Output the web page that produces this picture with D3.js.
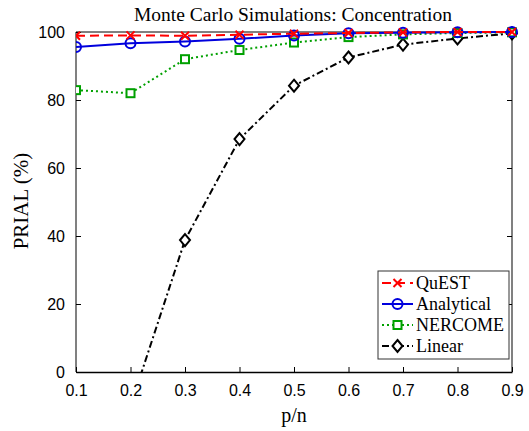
<!DOCTYPE html>
<html><head><meta charset="utf-8">
<script src="https://cdn.jsdelivr.net/npm/d3@7"></script>
<style>body{margin:0;background:#fff}svg{display:block}</style>
</head><body>
<svg id="c" width="529" height="431"></svg>
<script>
const pn = [0.1,0.2,0.3,0.4,0.5,0.6,0.7,0.8,0.9];
const quest = [98.9,99.0,98.9,99.2,99.5,99.7,99.9,100,100];
const analytical = [95.6,96.7,97.2,98.0,99.0,99.6,99.8,99.9,100];
const nercome = [82.9,82.0,92.0,94.7,96.9,98.5,99.3,99.7,99.9];
const linear = [-60,-10,38.8,68.5,84.2,92.5,96.3,98.1,99.6];
const xTicks = [0.1,0.2,0.3,0.4,0.5,0.6,0.7,0.8,0.9];
const yTicks = [0,20,40,60,80,100];
const names = ["QuEST","Analytical","NERCOME","Linear"];

const svg = d3.select("#c");
const L=76,R=512,T=32,B=372;
const x = d3.scaleLinear().domain([0.1,0.9]).range([L,R]);
const y = d3.scaleLinear().domain([0,100]).range([B,T]);
const SERIF = "Liberation Serif, Times New Roman, serif";
const SANS = "Liberation Sans, Arial, sans-serif";

svg.append("defs").append("clipPath").attr("id","clip").append("rect")
  .attr("x",L).attr("y",T-6).attr("width",R-L+6).attr("height",B-T+6);

// frame
svg.append("line").attr("x1",L).attr("x2",R).attr("y1",T).attr("y2",T).attr("stroke","#000").attr("stroke-width",1);
svg.append("line").attr("x1",L).attr("x2",L).attr("y1",T).attr("y2",B).attr("stroke","#808080").attr("stroke-width",2);
svg.append("line").attr("x1",R).attr("x2",R).attr("y1",T).attr("y2",B).attr("stroke","#808080").attr("stroke-width",2);

const xa = svg.append("g").attr("transform",`translate(0,${B})`)
  .call(d3.axisBottom(x).tickValues(xTicks).tickSizeInner(-5).tickSizeOuter(0).tickPadding(13).tickFormat(d3.format(".1f")));
xa.select(".domain").attr("stroke","#000").attr("stroke-width",1.5);
xa.selectAll("text").attr("font-family",SANS).attr("font-size",16).attr("fill","#000");
const ya = svg.append("g").attr("transform",`translate(${L},0)`)
  .call(d3.axisLeft(y).tickValues(yTicks).tickSizeInner(-5).tickSizeOuter(0).tickPadding(11));
ya.select(".domain").remove();
ya.selectAll("text").attr("font-family",SANS).attr("font-size",16).attr("fill","#000");
const yr = svg.append("g").attr("transform",`translate(${R},0)`)
  .call(d3.axisRight(y).tickValues(yTicks).tickSizeInner(-5).tickSizeOuter(0).tickFormat(""));
yr.select(".domain").remove();

const series = [
  {name:"QuEST", v:quest, color:"#ff0000", dash:"9,5", marker:"x"},
  {name:"Analytical", v:analytical, color:"#0000dd", dash:null, marker:"o"},
  {name:"NERCOME", v:nercome, color:"#00a000", dash:"2,3", marker:"s"},
  {name:"Linear", v:linear, color:"#000000", dash:"7,3,2,3", marker:"d"}
];
const line = d3.line().x((d,i)=>x(pn[i])).y(d=>y(d));
const g = svg.append("g").attr("clip-path","url(#clip)");

function drawMarker(sel, m, color){
  if(m==="x"){
    sel.append("path").attr("d","M-4,-4L4,4M-4,4L4,-4").attr("stroke",color).attr("stroke-width",2).attr("fill","none");
  } else if(m==="o"){
    sel.append("circle").attr("r",5).attr("stroke",color).attr("stroke-width",2).attr("fill","none");
  } else if(m==="s"){
    sel.append("rect").attr("x",-4).attr("y",-4).attr("width",8).attr("height",8).attr("stroke",color).attr("stroke-width",2).attr("fill","#fff");
  } else {
    sel.append("path").attr("d","M0,-6L5,0L0,6L-5,0Z").attr("stroke",color).attr("stroke-width",2).attr("fill","#fff");
  }
}

[...series].reverse().forEach(s=>{
  g.append("path").datum(s.v).attr("d",line).attr("fill","none").attr("stroke",s.color)
    .attr("stroke-width",2).attr("stroke-dasharray",s.dash);
  s.v.forEach((d,i)=>{
    if(d<0) return;
    const mg = g.append("g").attr("transform",`translate(${x(pn[i])},${y(d)})`);
    drawMarker(mg,s.marker,s.color);
  });
});

// title & labels
svg.append("text").attr("x",293).attr("y",21).attr("text-anchor","middle")
  .attr("font-family",SERIF).attr("font-size",19.5).text("Monte Carlo Simulations: Concentration");
svg.append("text").attr("x",294).attr("y",422).attr("text-anchor","middle")
  .attr("font-family",SERIF).attr("font-size",20).text("p/n");
svg.append("text").attr("transform","translate(28,201) rotate(-90)").attr("text-anchor","middle")
  .attr("font-family",SERIF).attr("font-size",21).text("PRIAL (%)");

// legend
const lg = svg.append("g");
lg.append("rect").attr("x",378).attr("y",271).attr("width",131).attr("height",88).attr("fill","#fff").attr("stroke","#333").attr("stroke-width",1);
series.forEach((s,i)=>{
  const yy = 283 + i*21;
  lg.append("line").attr("x1",382).attr("x2",413).attr("y1",yy).attr("y2",yy).attr("stroke",s.color).attr("stroke-width",2).attr("stroke-dasharray",s.dash);
  const mg = lg.append("g").attr("transform",`translate(397.5,${yy})`);
  drawMarker(mg,s.marker,s.color);
  lg.append("text").attr("x",416).attr("y",yy+6).attr("font-family",SERIF).attr("font-size",18).text(s.name);
});
</script>
</body></html>
